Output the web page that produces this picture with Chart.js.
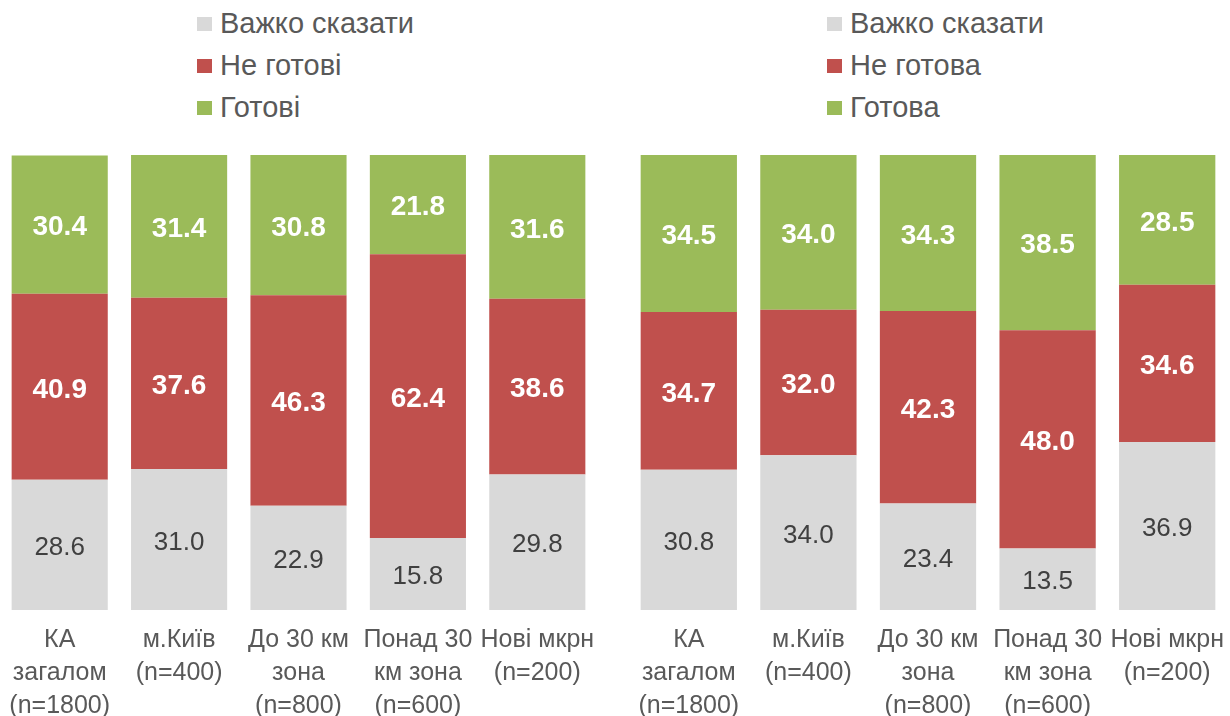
<!doctype html>
<html lang="uk">
  <head>
    <meta charset="utf-8">
    <title>Готовність</title>
    <script src="https://cdn.jsdelivr.net/npm/chart.js@4.4.0/dist/chart.umd.min.js"></script>
    <style>
      body { margin: 0; background: #fff; width: 1230px; height: 716px; overflow: hidden; position: relative; font-family: "Liberation Sans", Arial, sans-serif; }
      .box { position: absolute; top: 0; height: 716px; }
      .legend { position: absolute; top: 3px; color: #595959; font-size: 29px; }
      .legend div { height: 42px; line-height: 40px; white-space: nowrap; }
      .legend span { display: inline-block; width: 15px; height: 14px; margin-right: 8px; vertical-align: 2px; }
    </style>
  </head>
  <body>
    <div class="legend" id="leg1" style="left:197px"></div>
    <div class="legend" id="leg2" style="left:827px"></div>
    <div class="box" style="left:0;width:597px"><canvas id="chart1"></canvas></div>
    <div class="box" style="left:629px;width:598px"><canvas id="chart2"></canvas></div>

    <script>
        // categories (same for both charts)
        var categories = [
            ['КА', 'загалом', '(n=1800)'],
            ['м.Київ', '(n=400)'],
            ['До 30 км', 'зона', '(n=800)'],
            ['Понад 30', 'км зона', '(n=600)'],
            ['Нові мкрн', '(n=200)']
        ]

        // left chart
        var left_labels = ['Важко сказати', 'Не готові', 'Готові']
        var left_hard = [28.6, 31.0, 22.9, 15.8, 29.8]
        var left_no = [40.9, 37.6, 46.3, 62.4, 38.6]
        var left_yes = [30.4, 31.4, 30.8, 21.8, 31.6]

        // right chart
        var right_labels = ['Важко сказати', 'Не готова', 'Готова']
        var right_hard = [30.8, 34.0, 23.4, 13.5, 36.9]
        var right_no = [34.7, 32.0, 42.3, 48.0, 34.6]
        var right_yes = [34.5, 34.0, 34.3, 38.5, 28.5]

        var colors = ['#d9d9d9', '#c0504d', '#9bbb59']

        // draws the value in the middle of each segment
        var valueLabels = {
            id: 'valueLabels',
            afterDatasetsDraw: function(chart) {
                var ctx = chart.ctx
                ctx.save()
                ctx.textAlign = 'center'
                ctx.textBaseline = 'middle'
                chart.data.datasets.forEach(function(ds, i) {
                    var meta = chart.getDatasetMeta(i)
                    if (i == 0) {
                        ctx.font = '26px "Liberation Sans", Arial, sans-serif'
                        ctx.fillStyle = '#404040'
                    } else {
                        ctx.font = 'bold 28px "Liberation Sans", Arial, sans-serif'
                        ctx.fillStyle = '#ffffff'
                    }
                    meta.data.forEach(function(bar, j) {
                        ctx.fillText(ds.data[j].toFixed(1), bar.x, (bar.y + bar.base) / 2 + 3)
                    })
                })
                ctx.restore()
            }
        }

        function make_legend(id, labels) {
            var el = document.getElementById(id)
            labels.forEach(function(l, i) {
                var row = document.createElement('div')
                row.innerHTML = '<span style="background:' + colors[i] + '"></span>' + l
                el.appendChild(row)
            })
        }

        function make_chart(id, labels, series) {
            var ctx = document.getElementById(id).getContext('2d')
            return new Chart(ctx, {
                type: 'bar',
                data: {
                    labels: categories,
                    datasets: series.map(function(s, i) {
                        return {
                            label: labels[i],
                            data: s,
                            backgroundColor: colors[i],
                            borderWidth: 0,
                            categoryPercentage: 1,
                            barPercentage: 0.805
                        }
                    })
                },
                plugins: [valueLabels],
                options: {
                    responsive: true,
                    maintainAspectRatio: false,
                    animation: false,
                    layout: { padding: { top: 155, left: 0, right: 0, bottom: 0 } },
                    plugins: { legend: { display: false }, tooltip: { enabled: false } },
                    scales: {
                        x: {
                            stacked: true,
                            // tickLength only pushes the labels down, grid itself is hidden
                            grid: { display: false, drawTicks: true, tickLength: 14 },
                            border: { display: false },
                            ticks: {
                                autoSkip: false,
                                maxRotation: 0,
                                minRotation: 0,
                                padding: 0,
                                color: '#595959',
                                font: { family: '"Liberation Sans", Arial, sans-serif', size: 25, lineHeight: 1.32 }
                            },
                            afterFit: function(scale) { scale.height = 106 }
                        },
                        y: {
                            stacked: true,
                            display: false,
                            min: 0,
                            max: 100
                        }
                    }
                }
            })
        }

        make_legend('leg1', left_labels)
        make_legend('leg2', right_labels)
        make_chart('chart1', left_labels, [left_hard, left_no, left_yes])
        make_chart('chart2', right_labels, [right_hard, right_no, right_yes])
    </script>
  </body>
</html>
